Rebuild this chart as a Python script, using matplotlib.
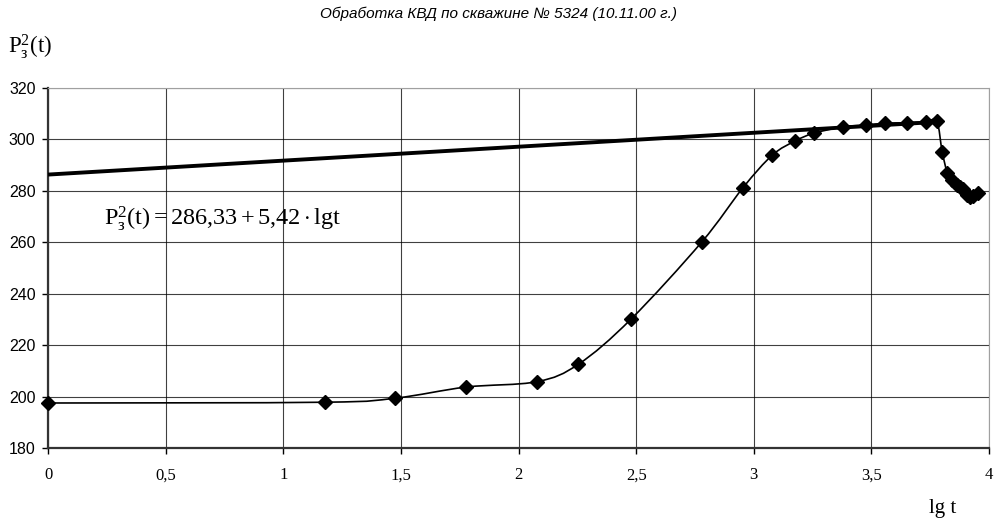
import matplotlib.pyplot as plt
import numpy as np
from matplotlib.path import Path
from matplotlib.patches import PathPatch

plt.rcParams['mathtext.fontset'] = 'custom'
plt.rcParams['mathtext.rm'] = 'Liberation Serif'
plt.rcParams['mathtext.it'] = 'Liberation Serif:italic'

# measured points, lg t vs P^2
lgt = [0.0, 1.176, 1.477, 1.778, 2.079, 2.255, 2.477, 2.778, 2.954, 3.079,
       3.176, 3.255, 3.380, 3.477, 3.556, 3.653, 3.732, 3.778,
       3.801, 3.823, 3.841, 3.862, 3.876, 3.891, 3.908, 3.919, 3.933, 3.954]
p2 = [197.5, 197.8, 199.4, 203.7, 205.8, 212.6, 230.0, 260.0, 281.2, 293.9,
      299.4, 302.4, 304.9, 305.6, 306.3, 306.5, 306.9, 307.0,
      295.2, 286.8, 284.2, 282.3, 281.6, 280.6, 278.4, 277.7, 278.0, 279.0]

# regression P^2 = a + b*lg t
a_fit = 286.33
b_fit = 5.42
fit_range = [0.0, 3.8]

title = 'Обработка КВД по скважине № 5324 (10.11.00 г.)'
xticks = [0, 0.5, 1, 1.5, 2, 2.5, 3, 3.5, 4]
yticks = [180, 200, 220, 240, 260, 280, 300, 320]


def smooth_path(x, y):
    # Excel-like smoothed line: Catmull-Rom segments as cubic Beziers
    pts = np.column_stack([x, y])
    verts = [pts[0]]
    codes = [Path.MOVETO]
    n = len(pts)
    for i in range(n - 1):
        p0 = pts[i - 1] if i > 0 else pts[i]
        p1 = pts[i]
        p2_ = pts[i + 1]
        p3 = pts[i + 2] if i + 2 < n else pts[i + 1]
        c1 = p1 + (p2_ - p0) / 6.0
        c2 = p2_ - (p3 - p1) / 6.0
        verts += [c1, c2, p2_]
        codes += [Path.CURVE4] * 3
    return Path(verts, codes)


fig = plt.figure(figsize=(9.96, 5.24), dpi=100)
ax = fig.add_axes([48 / 996, 1 - 448 / 524, 941 / 996, 360 / 524])

ax.set_xlim(0, 4)
ax.set_ylim(180, 320)
ax.set_xticks(xticks)
ax.set_yticks(yticks)
ax.set_xticklabels([str(t).replace('.', ',') if t % 1 else str(int(t)) for t in xticks],
                   family='Liberation Serif', fontsize=12)
ax.set_yticklabels([str(t) for t in yticks], family='Liberation Sans', fontsize=11.5)
ax.tick_params(direction='out', length=4, width=1, color='black')
ax.tick_params(axis='y', pad=5)
ax.tick_params(axis='x', pad=10)
ax.grid(True, color='black', linewidth=0.8, alpha=0.75)
ax.set_axisbelow(True)
for side in ['top', 'right']:
    ax.spines[side].set_color('#a0a0a0')
for side in ['left', 'bottom']:
    ax.spines[side].set_color('#333333')
    ax.spines[side].set_linewidth(1.6)

# regression line
xf = np.array(fit_range)
ax.plot(xf, a_fit + b_fit * xf, color='black', linewidth=2.8, solid_capstyle='butt', zorder=3)

# smoothed curve + markers
ax.add_patch(PathPatch(smooth_path(lgt, p2), facecolor='none', edgecolor='black',
                       linewidth=1.2, zorder=4))
ax.plot(lgt, p2, linestyle='none', marker='D', markersize=7, color='black', zorder=5,
        clip_on=False)

ax.text(0.24, 269, r'$\mathrm{P}_{\mathrm{з}}^{2}\mathrm{(t)} = 286{,}33 + 5{,}42\cdot\mathrm{lg t}$',
        fontsize=17.5, va='center', ha='left')

fig.text(498 / 996, 1 - 14 / 524, title, ha='center', va='center', fontsize=11,
         style='italic', family='Liberation Sans')
fig.text(8 / 996, 1 - 47 / 524, r'$\mathrm{P}_{\mathrm{з}}^{2}\mathrm{(t)}$', fontsize=16.5,
         ha='left', va='center')
fig.text(943 / 996, 1 - 509 / 524, 'lg t', fontsize=15, family='Liberation Serif',
         ha='center', va='center')

fig.savefig('out.png', dpi=100)
